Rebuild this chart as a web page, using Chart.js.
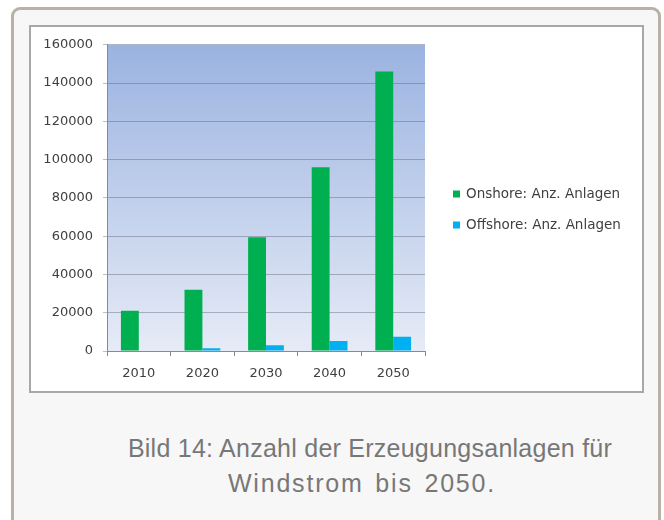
<!DOCTYPE html>
<html>
<head>
<meta charset="utf-8">
<script src="https://cdn.jsdelivr.net/npm/chart.js@4.4.1/dist/chart.umd.min.js"></script>
<style>
  html, body { margin: 0; padding: 0; width: 664px; height: 520px; overflow: hidden; background: #fff; }
  #frame { position: absolute; left: 11px; top: 7px; width: 644px; height: 600px; border: 3px solid #b9b0a6; border-radius: 9px; background: #f7f7f7; }
  #box { position: absolute; left: 29px; top: 25px; width: 611px; height: 364px; border: 2px solid #a8a8a8; background: #fff; }
  #box canvas { display: block; }
  .cap { position: absolute; width: 650px; text-align: center; font: 25px "Liberation Sans", Arial, sans-serif; line-height: 35px; color: #777; white-space: nowrap; }
  #cap1 { left: 45px; top: 431px; letter-spacing: 0.25px; }
  #cap2 { left: 37px; top: 466px; letter-spacing: 1.8px; word-spacing: 3px; }
</style>
</head>
<body>
<div id="frame"></div>
<div id="box"><canvas id="chart" width="611" height="364"></canvas></div>
<div class="cap" id="cap1">Bild 14: Anzahl der Erzeugungsanlagen für</div>
<div class="cap" id="cap2">Windstrom bis 2050.</div>
<script>
// ── Data ─────────────────────────────────────────────────
const years = ['2010', '2020', '2030', '2040', '2050'];
const onshore = [21000, 32000, 59500, 96000, 146000];
const offshore = [0, 1500, 3000, 5200, 7400];
const seriesNames = ['Onshore: Anz. Anlagen', 'Offshore: Anz. Anlagen'];
const yMax = 160000;
const yStep = 20000;

const FONT = 'DejaVu Sans';
const TEXT = '#404040';

// gradient behind the plot, like the old Excel chart
const plotBg = {
    id: 'plotBg',
    beforeDraw(chart) {
        const { ctx, chartArea: a } = chart;
        const g = ctx.createLinearGradient(0, a.top, 0, a.bottom);
        g.addColorStop(0, '#9bb3e1');
        g.addColorStop(1, '#e6ebf6');
        ctx.save();
        ctx.fillStyle = g;
        ctx.fillRect(a.left, a.top, a.right - a.left, a.bottom - a.top);
        ctx.restore();
    }
};

// legend to the right of the plot (built-in one gets squeezed by the layout)
const sideLegend = {
    id: 'sideLegend',
    afterDraw(chart) {
        const { ctx } = chart;
        const x = chart.chartArea.right + 28;
        ctx.save();
        ctx.font = '13.5px "' + FONT + '"';
        ctx.textBaseline = 'middle';
        chart.data.datasets.forEach((ds, i) => {
            const y = 167 + i * 31;
            ctx.fillStyle = ds.backgroundColor;
            ctx.fillRect(x, y - 3.5, 7, 7);
            ctx.fillStyle = TEXT;
            ctx.fillText(ds.label, x + 13, y);
        });
        ctx.restore();
    }
};

new Chart(document.getElementById('chart'), {
    type: 'bar',
    data: {
        labels: years,
        datasets: [
            { label: seriesNames[0], data: onshore, backgroundColor: '#00b050', borderWidth: 0 },
            { label: seriesNames[1], data: offshore, backgroundColor: '#00b0f0', borderWidth: 0 }
        ]
    },
    options: {
        responsive: false,
        animation: false,
        categoryPercentage: 0.5625,
        barPercentage: 1,
        layout: { padding: { left: 0, top: 17, right: 217, bottom: 0 } },
        scales: {
            x: {
                grid: { display: true, drawOnChartArea: false, tickLength: 5, color: '#8a8a8a' },
                border: { display: true, color: '#8a8a8a' },
                ticks: { color: TEXT, font: { family: FONT, size: 13 }, padding: 10 },
                afterFit: s => { s.height = 40; }
            },
            y: {
                min: 0, max: yMax,
                grid: { color: 'rgba(80,90,110,0.4)', tickLength: 4 },
                border: { display: true, color: '#8a8a8a' },
                ticks: { stepSize: yStep, color: TEXT, font: { family: FONT, size: 13 }, padding: 10, callback: v => String(v) },
                afterFit: s => { s.width = 76; }
            }
        },
        plugins: {
            tooltip: { enabled: false },
            legend: { display: false }
        }
    },
    plugins: [plotBg, sideLegend]
});
</script>
</body>
</html>
